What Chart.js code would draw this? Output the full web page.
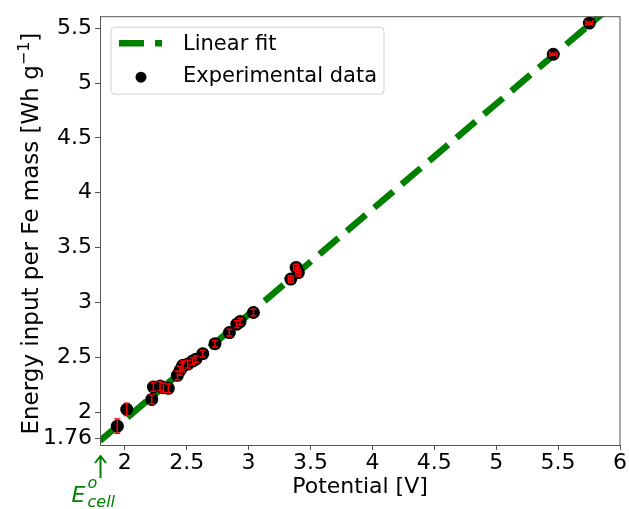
<!DOCTYPE html>
<html><head><meta charset="utf-8">
<script src="https://cdn.jsdelivr.net/npm/chart.js@4.4.0/dist/chart.umd.min.js"></script>
<style>html,body{margin:0;padding:0;background:#fff}#wrap{width:629px;height:509px}</style>
</head><body><div id="wrap"><canvas id="c" width="629" height="509"></canvas></div>
<script>
// ---- data ----
const potential = [1.940, 2.016, 2.218, 2.231, 2.285, 2.312, 2.352, 2.425, 2.445, 2.462, 2.470, 2.510, 2.548, 2.574, 2.630, 2.729, 2.845, 2.905, 2.931, 3.039, 3.341, 3.384, 3.402, 5.461, 5.752];
const energy    = [1.872, 2.025, 2.116, 2.229, 2.238, 2.222, 2.217, 2.335, 2.377, 2.407, 2.427, 2.438, 2.465, 2.482, 2.533, 2.624, 2.725, 2.802, 2.825, 2.908, 3.213, 3.319, 3.272, 5.263, 5.547];
const energyErr = [0.065, 0.055, 0.04, 0.04, 0.04, 0.04, 0.04, 0.04, 0.04, 0.04, 0.04, 0.035, 0.03, 0.03, 0.03, 0.03, 0.03, 0.03, 0.03, 0.03, 0.03, 0.03, 0.03, 0.01, 0.01];
const potentialErr = [0, 0, 0, 0, 0, 0, 0, 0, 0, 0, 0, 0, 0, 0, 0, 0, 0, 0, 0, 0, 0.02, 0.02, 0.02, 0.03, 0.03];
const fitX = [1.8, 6.0];
const fitY = [1.738, 5.77];
const xTicks = [2, 2.5, 3, 3.5, 4, 4.5, 5, 5.5, 6];
const yTicks = [1.76, 2, 2.5, 3, 3.5, 4, 4.5, 5, 5.5];
const xRange = [1.8, 6];
const yRange = [1.70, 5.61];
const eCellX = 1.8;
const legendLabels = ['Linear fit', 'Experimental data'];
const yTitleMain = 'Energy input per Fe mass [Wh g';
const yTitleSup = '\u22121';
const yTitleEnd = ']';
const xTitle = 'Potential [V]';

const GREEN = '#008000';
const FONT = 'DejaVu Sans';
const FS = 22;

const errorBars = {
  id: 'errorBars',
  afterDatasetsDraw(chart) {
    const {ctx, scales: {x, y}} = chart;
    ctx.save();
    ctx.strokeStyle = '#ff0000';
    ctx.lineWidth = 1.5;
    potential.forEach((p, i) => {
      const px = x.getPixelForValue(p), py = y.getPixelForValue(energy[i]);
      const e = energyErr[i];
      if (e > 0) {
        const y1 = y.getPixelForValue(energy[i] - e), y2 = y.getPixelForValue(energy[i] + e);
        ctx.beginPath();
        ctx.moveTo(px, y1); ctx.lineTo(px, y2);
        ctx.moveTo(px - 3, y1); ctx.lineTo(px + 3, y1);
        ctx.moveTo(px - 3, y2); ctx.lineTo(px + 3, y2);
        ctx.stroke();
      }
      const xe = potentialErr[i];
      if (xe > 0) {
        const x1 = x.getPixelForValue(p - xe), x2 = x.getPixelForValue(p + xe);
        ctx.beginPath();
        ctx.moveTo(x1, py); ctx.lineTo(x2, py);
        ctx.moveTo(x1, py - 3); ctx.lineTo(x1, py + 3);
        ctx.moveTo(x2, py - 3); ctx.lineTo(x2, py + 3);
        ctx.stroke();
      }
    });
    ctx.restore();
  }
};

function roundRectPath(ctx, x, y, w, h, r) {
  ctx.beginPath();
  ctx.moveTo(x + r, y);
  ctx.lineTo(x + w - r, y); ctx.arcTo(x + w, y, x + w, y + r, r);
  ctx.lineTo(x + w, y + h - r); ctx.arcTo(x + w, y + h, x + w - r, y + h, r);
  ctx.lineTo(x + r, y + h); ctx.arcTo(x, y + h, x, y + h - r, r);
  ctx.lineTo(x, y + r); ctx.arcTo(x, y, x + r, y, r);
  ctx.closePath();
}

const decorations = {
  id: 'decorations',
  afterDraw(chart) {
    const {ctx, chartArea: a, scales: {x}} = chart;
    ctx.save();
    // frame (top & right spines)
    ctx.strokeStyle = '#555';
    ctx.lineWidth = 1;
    ctx.strokeRect(a.left + 0.5, a.top + 0.5, a.right - a.left - 0.5, a.bottom - a.top);
    // y-axis title with superscript
    ctx.save();
    const TS = 23;
    const mainFont = TS + 'px ' + FONT, supFont = Math.round(TS * 0.7) + 'px ' + FONT;
    ctx.font = mainFont;
    const w1 = ctx.measureText(yTitleMain).width, w3 = ctx.measureText(yTitleEnd).width;
    ctx.font = supFont;
    const w2 = ctx.measureText(yTitleSup).width;
    const total = w1 + w2 + w3;
    const cy = (a.top + a.bottom) / 2 + 3;
    ctx.translate(38, cy);
    ctx.rotate(-Math.PI / 2);
    ctx.fillStyle = '#000';
    ctx.textBaseline = 'alphabetic';
    ctx.textAlign = 'left';
    let sx = -total / 2;
    ctx.font = mainFont;
    ctx.fillText(yTitleMain, sx, 0);
    sx += w1;
    ctx.font = supFont;
    ctx.fillText(yTitleSup, sx, -9);
    sx += w2;
    ctx.font = mainFont;
    ctx.fillText(yTitleEnd, sx, 0);
    ctx.restore();
    // legend
    const lx = a.left + 11, ly = a.top + 11, lw = 273, lh = 67;
    roundRectPath(ctx, lx, ly, lw, lh, 4);
    ctx.fillStyle = 'rgba(255,255,255,0.8)';
    ctx.fill();
    ctx.strokeStyle = '#d0d0d0';
    ctx.lineWidth = 1;
    ctx.stroke();
    ctx.strokeStyle = GREEN;
    ctx.lineWidth = 6.5;
    ctx.setLineDash([25, 11]);
    ctx.beginPath();
    ctx.moveTo(lx + 8, ly + 16); ctx.lineTo(lx + 51, ly + 16);
    ctx.stroke();
    ctx.setLineDash([]);
    ctx.fillStyle = '#000';
    ctx.beginPath();
    ctx.arc(lx + 30, ly + 50, 5.5, 0, Math.PI * 2);
    ctx.fill();
    ctx.font = '21px ' + FONT;
    ctx.textBaseline = 'middle';
    ctx.textAlign = 'left';
    ctx.fillText(legendLabels[0], lx + 72, ly + 17);
    ctx.fillText(legendLabels[1], lx + 72, ly + 49);
    // E_cell annotation
    const ex = Math.round(x.getPixelForValue(eCellX)) + 0.5;
    const by = a.bottom;
    ctx.strokeStyle = GREEN;
    ctx.fillStyle = GREEN;
    ctx.lineWidth = 2;
    ctx.beginPath();
    ctx.moveTo(ex, by + 33); ctx.lineTo(ex, by + 11);
    ctx.moveTo(ex - 5.5, by + 18); ctx.lineTo(ex, by + 11); ctx.lineTo(ex + 5.5, by + 18);
    ctx.stroke();
    ctx.textBaseline = 'alphabetic';
    ctx.font = 'italic 22px ' + FONT;
    ctx.fillText('E', ex - 29, by + 57);
    ctx.font = 'italic 16px ' + FONT;
    ctx.fillText('o', ex - 13, by + 43);
    ctx.fillText('cell', ex - 13, by + 62);
    ctx.restore();
  }
};

new Chart(document.getElementById('c'), {
  type: 'scatter',
  data: {
    datasets: [
      {
        label: legendLabels[1],
        data: potential.map((p, i) => ({x: p, y: energy[i]})),
        backgroundColor: '#000',
        borderColor: '#000',
        pointRadius: 6.5,
        pointHoverRadius: 6.5,
        borderWidth: 0,
        order: 0
      },
      {
        label: legendLabels[0],
        type: 'line',
        data: fitX.map((v, i) => ({x: v, y: fitY[i]})),
        borderColor: GREEN,
        borderWidth: 6.5,
        borderDash: [25, 11],
        borderCapStyle: 'butt',
        pointRadius: 0,
        fill: false,
        tension: 0,
        order: 1
      }
    ]
  },
  options: {
    responsive: false,
    animation: false,
    devicePixelRatio: 1,
    layout: {padding: {top: 16, right: 9, left: 0, bottom: 0}},
    plugins: {legend: {display: false}, tooltip: {enabled: false}},
    scales: {
      x: {
        type: 'linear',
        min: xRange[0], max: xRange[1],
        afterBuildTicks: s => { s.ticks = xTicks.map(v => ({value: v})); },
        afterFit: s => { s.height = 64; },
        ticks: {font: {family: FONT, size: FS}, color: '#000', padding: 0, maxRotation: 0, autoSkip: false, callback: v => String(v)},
        grid: {drawOnChartArea: false, drawTicks: true, tickLength: 5, color: '#555'},
        border: {display: true, color: '#555', width: 1},
        title: {display: true, text: xTitle, color: '#000', font: {family: FONT, size: FS}, padding: {top: 0, bottom: 9}}
      },
      y: {
        type: 'linear',
        min: yRange[0], max: yRange[1],
        afterBuildTicks: s => { s.ticks = yTicks.map(v => ({value: v})); },
        afterFit: s => { s.width = 100; },
        ticks: {font: {family: FONT, size: FS}, color: '#000', padding: 3, autoSkip: false, callback: v => String(v)},
        grid: {drawOnChartArea: false, drawTicks: true, tickLength: 5, color: '#555'},
        border: {display: true, color: '#555', width: 1},
        title: {display: false}
      }
    }
  },
  plugins: [errorBars, decorations]
});
</script>
</body></html>
